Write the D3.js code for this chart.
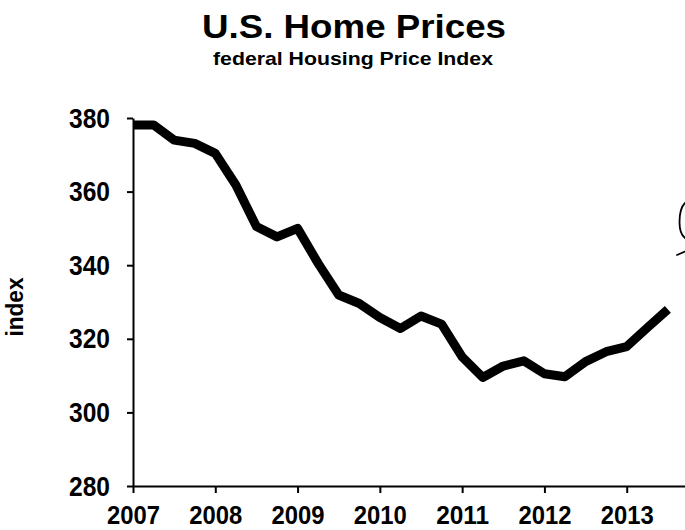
<!DOCTYPE html>
<html>
<head>
<meta charset="utf-8">
<script src="https://cdn.jsdelivr.net/npm/d3@7"></script>
<style>
  html, body { margin: 0; padding: 0; background: #fff; }
  svg { display: block; }
  text { font-family: "Liberation Sans", Arial, Helvetica, sans-serif; font-weight: bold; fill: #000; }
</style>
</head>
<body>
<svg id="chart" width="685" height="530"></svg>
<script>
// ---- data (quarterly) ----
const quarters = [
  2007.00, 2007.25, 2007.50, 2007.75,
  2008.00, 2008.25, 2008.50, 2008.75,
  2009.00, 2009.25, 2009.50, 2009.75,
  2010.00, 2010.25, 2010.50, 2010.75,
  2011.00, 2011.25, 2011.50, 2011.75,
  2012.00, 2012.25, 2012.50, 2012.75,
  2013.00, 2013.25, 2013.50
];
const indexValues = [
  378.1, 378.1, 374.0, 373.1,
  370.4, 361.8, 350.5, 347.7,
  350.0, 340.5, 331.9, 329.6,
  325.8, 322.8, 326.2, 324.0,
  315.1, 309.5, 312.6, 314.0,
  310.5, 309.7, 313.8, 316.5,
  317.9, 323.0, 328.0
];
const yearTicks = [2007, 2008, 2009, 2010, 2011, 2012, 2013];
const valueTicks = [280, 300, 320, 340, 360, 380];
const titleText = "U.S. Home Prices";
const subtitleText = "federal Housing Price Index";
const yLabelText = "index";

const svg = d3.select("#chart");

const x = d3.scaleLinear().domain([2007, 2014]).range([133, 709]);
const y = d3.scaleLinear().domain([280, 380]).range([486, 118]);

// title
svg.append("text")
  .attr("x", 354).attr("y", 38)
  .attr("text-anchor", "middle")
  .attr("font-size", 34)
  .attr("textLength", 304).attr("lengthAdjust", "spacingAndGlyphs")
  .text(titleText);
svg.append("text")
  .attr("x", 353).attr("y", 65)
  .attr("text-anchor", "middle")
  .attr("font-size", 19)
  .attr("textLength", 280).attr("lengthAdjust", "spacingAndGlyphs")
  .text(subtitleText);

// y axis label
svg.append("text")
  .attr("transform", "translate(23,307) rotate(-90)")
  .attr("text-anchor", "middle")
  .attr("font-size", 24)
  .attr("textLength", 59).attr("lengthAdjust", "spacingAndGlyphs")
  .text(yLabelText);

// axes
const yAxis = svg.append("g")
  .attr("transform", `translate(${x(2007)},0)`)
  .call(d3.axisLeft(y).tickValues(valueTicks).tickSize(6).tickSizeOuter(0).tickPadding(17).tickFormat(d3.format("d")));
yAxis.selectAll("text")
  .attr("font-size", 27)
  .attr("dy", "0.34em")
  .attr("textLength", 41).attr("lengthAdjust", "spacingAndGlyphs")
  .style("font-family", "Liberation Sans, Arial, sans-serif").style("font-weight", "bold");

const xAxis = svg.append("g")
  .attr("transform", `translate(0,${y(280)})`)
  .call(d3.axisBottom(x).tickValues(yearTicks).tickSize(7).tickSizeOuter(0).tickPadding(13).tickFormat(d3.format("d")));
xAxis.selectAll("text")
  .attr("font-size", 26)
  .attr("textLength", 53).attr("lengthAdjust", "spacingAndGlyphs")
  .style("font-family", "Liberation Sans, Arial, sans-serif").style("font-weight", "bold");

[yAxis, xAxis].forEach(g => {
  g.select(".domain").attr("stroke", "#000").attr("stroke-width", 2);
  g.selectAll(".tick line").attr("stroke", "#000").attr("stroke-width", 2);
});

// data line
const series = quarters.map((q, i) => ({ q, v: indexValues[i] }));
const line = d3.line().x(d => x(d.q)).y(d => y(d.v));
svg.append("path")
  .datum(series)
  .attr("d", line)
  .attr("fill", "none")
  .attr("stroke", "#000")
  .attr("stroke-width", 9)
  .attr("stroke-linejoin", "round")
  .attr("stroke-linecap", "butt");

// handwritten scribble at the right edge of the scan
svg.append("path")
  .attr("d", "M685,203 C681,207 679.5,214 679.5,222 C679.5,230 681,235 685,238 M677,255 L685,251.5")
  .attr("fill", "none")
  .attr("stroke", "#000")
  .attr("stroke-width", 1.8)
  .attr("stroke-linecap", "round");
</script>
</body>
</html>
